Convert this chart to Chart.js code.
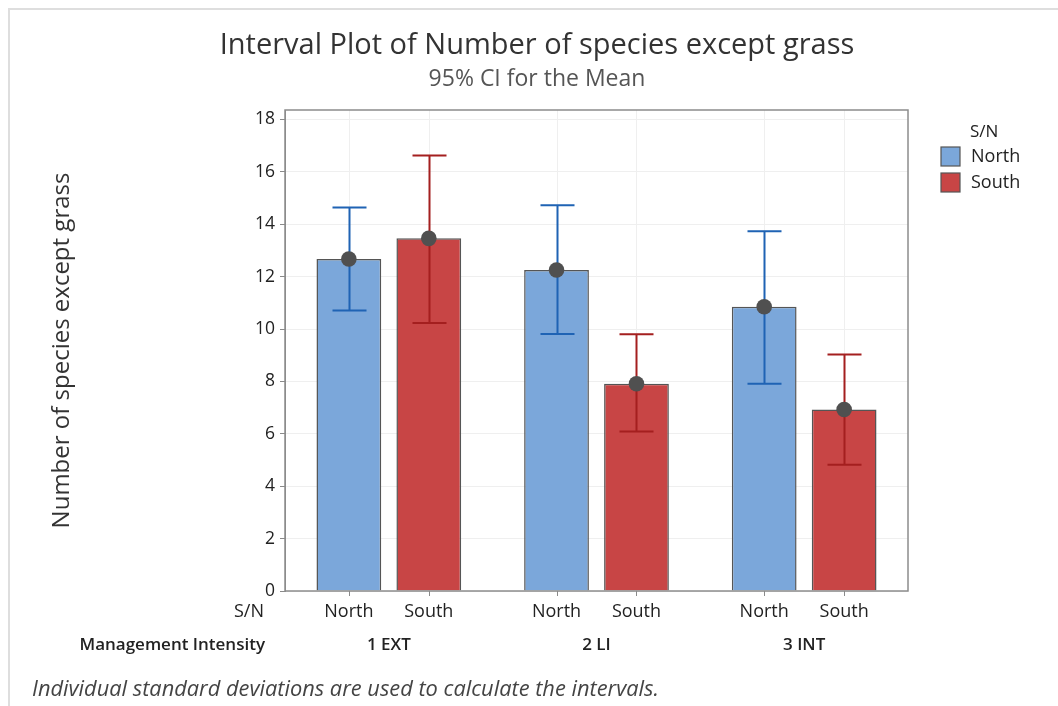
<!DOCTYPE html>
<html><head><meta charset="utf-8">
<script src="https://cdn.jsdelivr.net/npm/chart.js@4.4.0/dist/chart.umd.min.js"></script>
<style>html,body{margin:0;padding:0;background:#fff;overflow:hidden}canvas{display:block}</style>
</head><body>
<canvas id="c" width="1058" height="706"></canvas>
<script>
// ---- data ----
const groups = ['1 EXT', '2 LI', '3 INT'];
const seriesNames = ['North', 'South'];
const northMean  = [12.67, 12.25, 10.85];
const northLower = [10.71, 9.81, 7.91];
const northUpper = [14.64, 14.72, 13.73];
const southMean  = [13.46, 7.91, 6.93];
const southLower = [10.23, 6.09, 4.82];
const southUpper = [16.62, 9.80, 9.03];
const yTicks = [0, 2, 4, 6, 8, 10, 12, 14, 16, 18];
const yMax = 18.36;

const titleText = 'Interval Plot of Number of species except grass';
const subtitleText = '95% CI for the Mean';
const yTitleText = 'Number of species except grass';
const footerText = 'Individual standard deviations are used to calculate the intervals.';

const FONT = "'Open Sans', 'Noto Sans', sans-serif";
const fillColors = ['#7BA7DA', '#C84545'];
const ciColors = ['#1F63B4', '#A41F1F'];
const lowers = [northLower, southLower];
const uppers = [northUpper, southUpper];
const means = [northMean, southMean];

const plugin = {
  id: 'intervalExtras',
  beforeDraw(chart) {
    const ctx = chart.ctx;
    ctx.save();
    ctx.strokeStyle = '#dedede'; ctx.lineWidth = 2;
    ctx.beginPath(); ctx.moveTo(9, 706); ctx.lineTo(9, 9); ctx.lineTo(1058, 9); ctx.stroke();
    ctx.restore();
  },
  beforeDatasetsDraw(chart) {
    const {ctx, chartArea: a} = chart;
    ctx.save();
    ctx.strokeStyle = '#efefef'; ctx.lineWidth = 1;
    chart.data.datasets.forEach((ds, i) => {
      chart.getDatasetMeta(i).data.forEach(bar => {
        const x = Math.round(bar.x) + 0.5;
        ctx.beginPath(); ctx.moveTo(x, a.top); ctx.lineTo(x, a.bottom); ctx.stroke();
      });
    });
    ctx.restore();
  },
  afterDatasetsDraw(chart) {
    const {ctx, chartArea: a, scales: {y}} = chart;
    ctx.save();
    chart.data.datasets.forEach((ds, i) => {
      chart.getDatasetMeta(i).data.forEach((bar, j) => {
        const x = Math.round(bar.x) + 0.5;
        const yl = y.getPixelForValue(lowers[i][j]);
        const yu = y.getPixelForValue(uppers[i][j]);
        const ym = y.getPixelForValue(means[i][j]);
        ctx.strokeStyle = ciColors[i]; ctx.lineWidth = 2;
        ctx.beginPath();
        ctx.moveTo(x, yl); ctx.lineTo(x, yu);
        ctx.moveTo(x - 17, yu); ctx.lineTo(x + 17, yu);
        ctx.moveTo(x - 17, yl); ctx.lineTo(x + 17, yl);
        ctx.stroke();
        ctx.fillStyle = '#505050';
        ctx.beginPath(); ctx.arc(bar.x, ym, 7.8, 0, Math.PI * 2); ctx.fill();
        ctx.strokeStyle = '#8a8a8a'; ctx.lineWidth = 1;
        ctx.beginPath(); ctx.moveTo(x, a.bottom); ctx.lineTo(x, a.bottom + 5); ctx.stroke();
      });
    });
    ctx.strokeStyle = '#8c8c8c'; ctx.lineWidth = 1.5;
    ctx.strokeRect(a.left, a.top, a.right - a.left, a.bottom - a.top);
    ctx.restore();
  },
  afterDraw(chart) {
    const {ctx} = chart;
    ctx.save();
    ctx.textBaseline = 'middle';
    // titles
    ctx.textAlign = 'center';
    ctx.fillStyle = '#333';
    ctx.font = `29px ${FONT}`;
    ctx.fillText(titleText, 537, 46);
    ctx.fillStyle = '#555';
    ctx.font = `23px ${FONT}`;
    ctx.fillText(subtitleText, 537, 79);
    // series labels under bars
    ctx.fillStyle = '#222';
    ctx.font = `18px ${FONT}`;
    chart.data.datasets.forEach((ds, i) => {
      chart.getDatasetMeta(i).data.forEach(bar => {
        ctx.fillText(seriesNames[i], bar.x, 612);
      });
    });
    ctx.textAlign = 'right';
    ctx.fillText('S/N', 264, 612);
    // group labels
    ctx.font = `600 17px ${FONT}`;
    ctx.textAlign = 'center';
    const xs = chart.scales.x;
    groups.forEach((g, j) => ctx.fillText(g, xs.getPixelForValue(j), 645));
    ctx.textAlign = 'right';
    ctx.fillText('Management Intensity', 265, 645);
    // legend
    ctx.textAlign = 'left';
    ctx.font = `17px ${FONT}`;
    ctx.fillStyle = '#222';
    ctx.fillText('S/N', 970, 132);
    ctx.font = `18px ${FONT}`;
    seriesNames.forEach((n, i) => {
      const top = 147 + i * 26;
      ctx.fillStyle = fillColors[i];
      ctx.fillRect(941, top, 19, 19);
      ctx.strokeStyle = '#555'; ctx.lineWidth = 1.2;
      ctx.strokeRect(941, top, 19, 19);
      ctx.fillStyle = '#222';
      ctx.fillText(n, 971, top + 10);
    });
    // footer
    ctx.font = `italic 21.8px ${FONT}`;
    ctx.fillStyle = '#444';
    ctx.fillText(footerText, 32, 690);
    ctx.restore();
  }
};

new Chart(document.getElementById('c'), {
  type: 'bar',
  data: {
    labels: groups,
    datasets: [
      { label: seriesNames[0], data: northMean, backgroundColor: fillColors[0], borderColor: '#555', borderWidth: 1.5 },
      { label: seriesNames[1], data: southMean, backgroundColor: fillColors[1], borderColor: '#555', borderWidth: 1.5 }
    ]
  },
  options: {
    responsive: false,
    animation: false,
    categoryPercentage: 0.77,
    barPercentage: 0.81,
    layout: { padding: { top: 110, right: 150, bottom: 0, left: 0 } },
    plugins: {
      legend: { display: false },
      tooltip: { enabled: false },
      title: { display: false },
      subtitle: { display: false }
    },
    scales: {
      x: {
        grid: { display: false },
        border: { display: false },
        ticks: { display: false },
        afterFit(s) { s.height = 115; }
      },
      y: {
        min: 0, max: yMax,
        afterBuildTicks(s) { s.ticks = yTicks.map(v => ({ value: v })); },
        afterFit(s) { s.width = 285; },
        grid: { color: '#efefef', tickColor: '#8a8a8a', tickLength: 5, drawTicks: true },
        border: { display: true, color: '#8c8c8c' },
        ticks: { color: '#222', padding: 5, font: { family: FONT, size: 17.5 } },
        title: {
          display: true, text: yTitleText,
          color: '#333', font: { family: FONT, size: 24 },
          padding: { top: 47.6 }
        }
      }
    }
  },
  plugins: [plugin]
});
</script>
</body></html>
